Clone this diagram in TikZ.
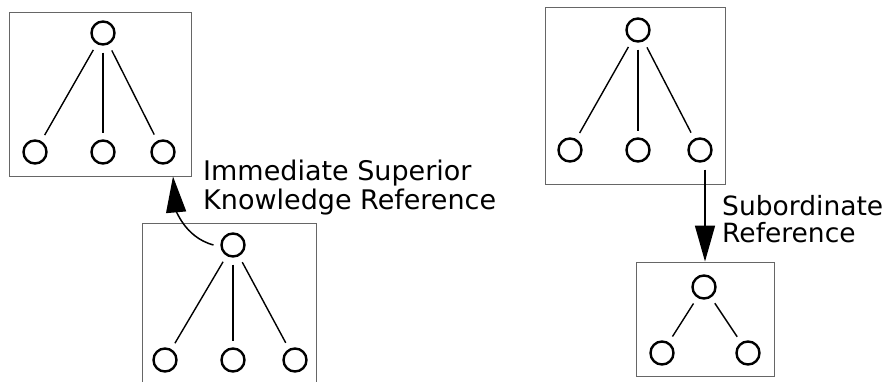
\documentclass[tikz,border=0pt]{standalone}
\usepackage{fontspec}
\setmainfont{DejaVu Sans}
\usepackage{tikz}
\usetikzlibrary{calc}
\usetikzlibrary{arrows.meta, positioning}

\begin{document}
\begin{tikzpicture}[
  x=1pt, y=1pt,
  >={Triangle[length=36pt,width=20pt]},
  frame/.style={draw=black!60, line width=0.9pt, inner sep=0pt},
  obj/.style={circle, draw, line width=2.4pt, minimum size=23pt, inner sep=0pt, outer sep=8pt},
  link/.style={line width=1.4pt},
  ref/.style={->, line width=1.5pt},
  lbl/.style={align=left, inner sep=0pt, anchor=west}
]
\useasboundingbox (0,0) rectangle (887,-381);
\clip (0,0) rectangle (887,-381);

% superior entry (upper left)
\node[frame, minimum width=182pt, minimum height=164pt] (upper) at (100,-94) {};
\node[obj] (u) at (103,-33) {};
\node[obj] (u1) at (35,-152) {};
\node[obj] (u2) at (103,-152) {};
\node[obj] (u3) at (163,-152) {};

% entry holding the reference (lower left)
\node[frame, minimum width=174pt, minimum height=177pt] (lower) at (229,-311.5) {};
\node[obj] (l) at (233,-245) {};
\node[obj] (l1) at (165,-360) {};
\node[obj] (l2) at (233,-360) {};
\node[obj] (l3) at (295,-360) {};

% entry holding the reference (upper right)
\node[frame, minimum width=180pt, minimum height=177pt] (super) at (635,-95.5) {};
\node[obj] (s) at (638,-30) {};
\node[obj] (s1) at (570,-150) {};
\node[obj] (s2) at (638,-150) {};
\node[obj] (s3) at (700,-150) {};

% subordinate entry (lower right)
\node[frame, minimum width=138pt, minimum height=114pt] (sub) at (705,-319) {};
\node[obj] (b) at (704,-287) {};
\node[obj] (b1) at (662,-353) {};
\node[obj] (b2) at (748,-353) {};

\draw[link] (u) -- (u1);
\draw[link] (u) -- (u2);
\draw[link] (u) -- (u3);
\draw[link] (l) -- (l1);
\draw[link] (l) -- (l2);
\draw[link] (l) -- (l3);
\draw[link] (s) -- (s1);
\draw[link] (s) -- (s2);
\draw[link] (s) -- (s3);
\draw[link] (b) -- (b1);
\draw[link] (b) -- (b2);

\draw[ref] (l.west) to[out=165, in=-85] ($(upper.south -| u3)+(10,0)$);
\draw[ref] (s3.south -| sub.north) -- (sub.north);

\node[lbl, font=\fontsize{27}{29}\selectfont] (isk) at (203,-188) {Immediate Superior\\Knowledge Reference};
\node[lbl, font=\fontsize{26.5}{27}\selectfont] (subref) at (722,-219) {Subordinate\\Reference};

\end{tikzpicture}
\end{document}
